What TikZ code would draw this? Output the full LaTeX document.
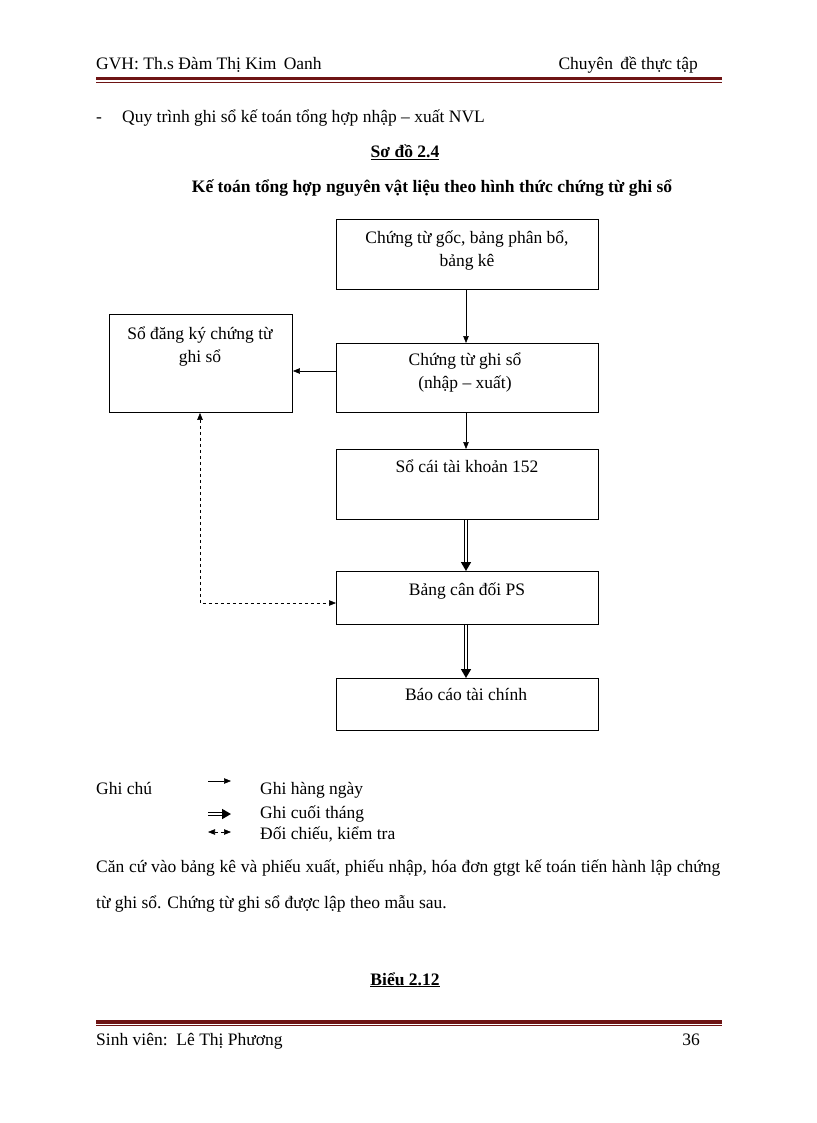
\documentclass[tikz,border=0pt]{standalone}
\usepackage{fontspec}
\setmainfont{Liberation Serif}
\usetikzlibrary{arrows.meta}
\definecolor{rul}{RGB}{110,20,20}
\begin{document}
\begin{tikzpicture}[x=1pt,y=-1pt,
  every node/.style={font=\fontsize{17.5}{23}\selectfont,inner sep=0pt},
  box/.style={draw,line width=0.9pt,rectangle,minimum width=262pt,anchor=north west},
  single/.style={-{Triangle[length=7pt,width=5.5pt]},line width=0.6pt},
  dbl/.style={double,double distance=1.4pt,line width=1.6pt,-{Triangle[length=9pt,width=10pt]}},
  dsh/.style={dashed,line width=0.6pt,{Triangle[length=7pt,width=5.5pt]}-{Triangle[length=7pt,width=5.5pt]}}]
\useasboundingbox (0,0) rectangle (816,1123);
% header
\node[anchor=base west] (h1) at (96,70) {GVH: Th.s Đàm Thị Kim\, Oanh};
\node[anchor=base east] (h2) at (698,70) {Chuyên\, đề thực tập};
\fill[rul] (96,77) rectangle (722,80.5);
\draw[rul,line width=0.6pt] (96,82) -- (722,82);
% heading
\node[anchor=base west] (d) at (96,123) {-};
\node[anchor=base west] (q) at (122,123) {Quy trình ghi sổ kế toán tổng hợp nhập – xuất NVL};
\node[anchor=base,font=\fontsize{17.5}{23}\selectfont\bfseries] (s) at (405,158) {\underline{Sơ đồ 2.4}};
\node[anchor=base,font=\fontsize{17.5}{23}\selectfont\bfseries] (t) at (432,193) {Kế toán tổng hợp nguyên vật liệu theo hình thức chứng từ ghi sổ};
% boxes
\node[box,minimum height=70pt] (A) at (336,219) {};
\node[anchor=base,align=center] at (467,266) {Chứng từ gốc, bảng phân bổ,\\bảng kê};
\node[box,minimum width=183pt,minimum height=98pt] (B) at (109,314) {};
\node[anchor=base,align=center] at (200,362) {Sổ đăng ký chứng từ\\ghi sổ};
\node[box,minimum height=69pt] (C) at (336,343) {};
\node[anchor=base,align=center] at (465,388) {Chứng từ ghi sổ\\(nhập – xuất)};
\node[box,minimum height=70pt] (D) at (336,449) {};
\node[anchor=base] at (467,472) {Sổ cái tài khoản 152};
\node[box,minimum height=53pt] (E) at (336,571) {};
\node[anchor=base] at (467,595) {Bảng cân đối PS};
\node[box,minimum height=52pt] (F) at (336,678) {};
\node[anchor=base] at (466,700) {Báo cáo tài chính};
% connectors
\draw[single] (A.south -| 466,0) -- (C.north -| 466,0);
\draw[single] (C.west |- 0,371) -- (B.east |- 0,371);
\draw[single] (C.south -| 466,0) -- (D.north -| 466,0);
\draw[dbl] (D.south -| 466,0) -- (E.north -| 466,0);
\draw[dbl] (E.south -| 466,0) -- (F.north -| 466,0);
\draw[dsh] (B.south -| 200,0) -- (200,603) -- (E.west |- 0,603);
% legend
\node[anchor=base west] (g) at (96,794) {Ghi chú};
\coordinate (l1a) at (208,781); \coordinate (l1b) at (231,781);
\draw[single] (l1a) -- (l1b);
\coordinate (l2a) at (208,814); \coordinate (l2b) at (231,814);
\draw[dbl] (l2a) -- (l2b);
\coordinate (l3a) at (208,832); \coordinate (l3b) at (231,832);
\draw[dsh] (l3a) -- (l3b);
\node[anchor=base west] (g1) at (260,794) {Ghi hàng ngày};
\node[anchor=base west] (g2) at (260,818) {Ghi cuối tháng};
\node[anchor=base west] (g3) at (260,839) {Đối chiếu, kiểm tra};
% paragraph
\node[anchor=base west,text width=624pt,align=justify,font=\fontsize{17.5}{36}\selectfont] (p) at (96,872) {Căn cứ vào bảng kê và phiếu xuất, phiếu nhập, hóa đơn gtgt kế toán tiến hành lập chứng từ ghi sổ. Chứng từ ghi sổ được lập theo mẫu sau.};
\node[anchor=base,font=\fontsize{17.5}{23}\selectfont\bfseries] (b) at (405,985) {\underline{Biểu 2.12}};
% footer
\fill[rul] (96,1020) rectangle (722,1023.5);
\draw[rul,line width=0.6pt] (96,1025.5) -- (722,1025.5);
\node[anchor=base west] (f1) at (96,1045) {Sinh viên:\, Lê Thị Phương};
\node[anchor=base east] (f2) at (700,1045) {36};
\end{tikzpicture}
\end{document}
